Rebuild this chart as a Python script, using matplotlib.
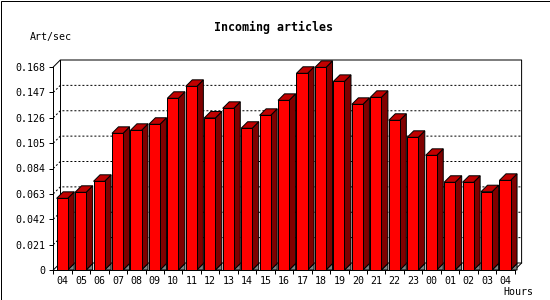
import matplotlib
matplotlib.use('Agg')
import matplotlib.pyplot as plt
from matplotlib.patches import Rectangle, Polygon
import numpy as np

# hourly data
hours = ['04', '05', '06', '07', '08', '09', '10', '11', '12', '13', '14', '15', '16',
         '17', '18', '19', '20', '21', '22', '23', '00', '01', '02', '03', '04']
rate = [0.0593, 0.0643, 0.0734, 0.1131, 0.1156, 0.1206, 0.1421, 0.1520, 0.1258,
        0.1338, 0.1173, 0.1280, 0.1404, 0.1628, 0.1677, 0.1561, 0.1371, 0.1429,
        0.1239, 0.1098, 0.0949, 0.0726, 0.0726, 0.0648, 0.0742]
yticks = [0, 0.021, 0.042, 0.063, 0.084, 0.105, 0.126, 0.147, 0.168]

mono = 'DejaVu Sans Mono'
px = 0.72  # one pixel in points at dpi 100

fig = plt.figure(figsize=(5.5, 3), dpi=100)
ax = fig.add_axes([53.3/550, 30/300, 461.3/550, 203/300])
ax.set_xlim(0, len(rate))
ax.set_ylim(0, yticks[-1])
ax.patch.set_visible(False)
for s in ['top', 'right']:
    ax.spines[s].set_visible(False)
for s in ['left', 'bottom']:
    ax.spines[s].set_linewidth(px)
    ax.spines[s].set_zorder(6)

# depth offsets (pixels -> data units)
inv = ax.transData.inverted()
ox, oy = ax.transData.transform((0, 0))
dx, dy = inv.transform((ox + 7, oy + 7))
bx, by = inv.transform((ox + 6.5, oy + 6.5))

n = len(rate)
top = yticks[-1]

# back plane and walls
ax.plot([0, dx, n + dx, n + dx, n], [top, top + dy, top + dy, dy, 0],
        color='k', lw=px, clip_on=False, zorder=1)
ax.plot([dx, dx], [dy, top + dy], color='k', lw=px, clip_on=False, zorder=1)
ax.plot([0, dx, n + dx], [0, dy, dy], color='k', lw=px, clip_on=False, zorder=1)
for t in yticks[1:-1]:
    ax.plot([0, dx, n + dx], [t, t + dy, t + dy], color='k', lw=px,
            linestyle=(0, (2, 2)), clip_on=False, zorder=1)

# 3d bars
w = 0.6
for i, v in enumerate(rate):
    x0 = i + 0.18
    x1 = x0 + w
    ax.add_patch(Polygon([(x1, 0), (x1 + bx, by), (x1 + bx, 0)], closed=True,
                         facecolor='#808080', edgecolor='k', lw=px, clip_on=False, zorder=2))
    ax.add_patch(Polygon([(x1, 0), (x1 + bx, by), (x1 + bx, v + by), (x1, v)], closed=True,
                         facecolor='#800000', edgecolor='k', lw=px, clip_on=False, zorder=3))
    ax.add_patch(Polygon([(x0, v), (x1, v), (x1 + bx, v + by), (x0 + bx, v + by)], closed=True,
                         facecolor='#c00000', edgecolor='k', lw=px, clip_on=False, zorder=3))
    ax.add_patch(Rectangle((x0, 0), w, v, facecolor='#ff0000', edgecolor='k',
                           lw=px, clip_on=False, zorder=4))

# ticks
ax.set_yticks(yticks)
ax.set_yticklabels(['0' if t == 0 else '%.3f' % t for t in yticks], family=mono, fontsize=7.2)
ax.tick_params(axis='y', direction='out', length=3, width=px, pad=3)
ax.set_xticks(np.arange(n) + 0.5)
ax.set_xticklabels(hours, family=mono, fontsize=7.2)
ax.set_xticks(np.arange(n + 1), minor=True)
ax.tick_params(axis='x', which='major', length=0, pad=4)
ax.tick_params(axis='x', which='minor', direction='out', length=3, width=px)

# texts
fig.text(273.5/550, 1 - 27/300, 'Incoming articles', ha='center', va='center',
         family=mono, fontweight='bold', fontsize=8.4)
fig.text(30/550, 1 - 37/300, 'Art/sec', ha='left', va='center', family=mono, fontsize=7.2)
fig.text(503/550, 1 - 292/300, 'Hours', ha='left', va='center', family=mono, fontsize=7.2)

# outer frame
fig.patches.append(Rectangle((0.5/550, 0.5/300), 549/550, 299/300, transform=fig.transFigure,
                             fill=False, edgecolor='k', lw=px))

fig.savefig('out.png', dpi=100)
